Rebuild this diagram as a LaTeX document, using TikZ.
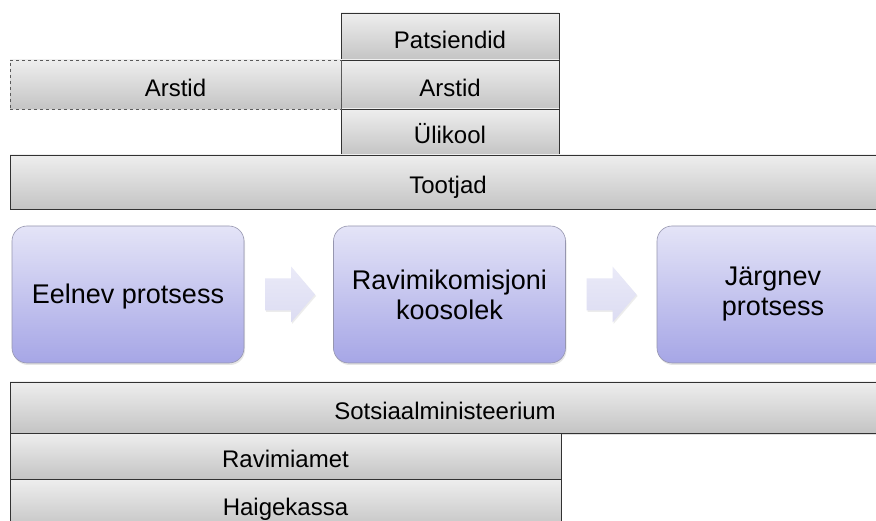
\documentclass[tikz,border=0pt]{standalone}
\usepackage{fontspec}
\setmainfont{Liberation Sans}
\usetikzlibrary{calc,shadows}
\definecolor{gtop}{RGB}{238,238,238}
\definecolor{gbot}{RGB}{196,196,196}
\definecolor{gline}{RGB}{50,50,50}
\definecolor{dline}{RGB}{90,90,90}
\definecolor{ptop}{RGB}{228,228,247}
\definecolor{pbot}{RGB}{166,166,230}
\definecolor{pline}{RGB}{150,150,175}
\definecolor{atop}{RGB}{234,234,248}
\definecolor{abot}{RGB}{220,220,242}
\tikzset{
  graybox/.style={draw=gline, line width=0.8pt, top color=gtop, bottom color=gbot,
    inner sep=0pt, outer sep=0pt, font=\fontsize{24}{28}\selectfont,
    text height=23.5pt, text depth=0pt,
    drop shadow={shadow xshift=1pt, shadow yshift=-1.5pt, opacity=0.25}},
  dashbox/.style={graybox, dashed, draw=dline},
  procbox/.style={draw=pline, line width=0.6pt, top color=ptop, bottom color=pbot,
    rounded corners=15pt, inner sep=0pt, outer sep=0pt, align=center,
    minimum width=232pt, minimum height=137pt,
    font=\fontsize{27}{30}\selectfont,
    drop shadow={shadow xshift=1pt, shadow yshift=-2pt, opacity=0.2}},
  flowarrow/.style={top color=atop, bottom color=abot, draw=none,
    drop shadow={shadow xshift=1pt, shadow yshift=-1.5pt, opacity=0.15}}
}
\begin{document}
\begin{tikzpicture}[x=1pt,y=1pt]
\clip (0,0) rectangle (876,-521);
\fill[white] (0,0) rectangle (876,-521);
% top stack
\node[graybox, minimum width=218pt, minimum height=47pt] (pat) at (450,-36.5) {Patsiendid};
\node[graybox, minimum width=218pt, minimum height=49pt] (arR) at (450,-84.5) {Arstid};
\node[graybox, minimum width=218pt, minimum height=46pt] (uli) at (450,-132) {Ülikool};
\node[dashbox, minimum width=331pt, minimum height=49pt] (arL) at (175.5,-84.5) {Arstid};
\node[graybox, minimum width=876pt, minimum height=54pt] (toot) at (448,-182) {Tootjad};
% process
\node[procbox, text height=25pt, text depth=6pt] (een) at (128,-294.5) {Eelnev protsess};
\node[procbox] (rav) at (449.5,-294.5) {Ravimikomisjoni\\koosolek};
\node[procbox] (jar) at (773,-294.5) {Järgnev\\protsess};
\foreach \a/\b in {een/rav, rav/jar}{
  \path[flowarrow] ($(\a.east)+(21,16)$) -- ($(\a.east)+(47,16)$) -- ($(\a.east)+(47,28)$)
    -- ($(\a.east)+(71,0)$) -- ($(\a.east)+(47,-28)$) -- ($(\a.east)+(47,-16)$)
    -- ($(\a.east)+(21,-16)$) -- cycle;
}
% bottom stack
\node[graybox, minimum width=870pt, minimum height=51pt] (sots) at (445,-407.5) {Sotsiaalministeerium};
\node[graybox, minimum width=551pt, minimum height=46pt] (ravi) at (285.5,-456) {Ravimiamet};
\node[graybox, minimum width=551pt, minimum height=50pt] (haig) at (285.5,-504) {Haigekassa};
\end{tikzpicture}
\end{document}
